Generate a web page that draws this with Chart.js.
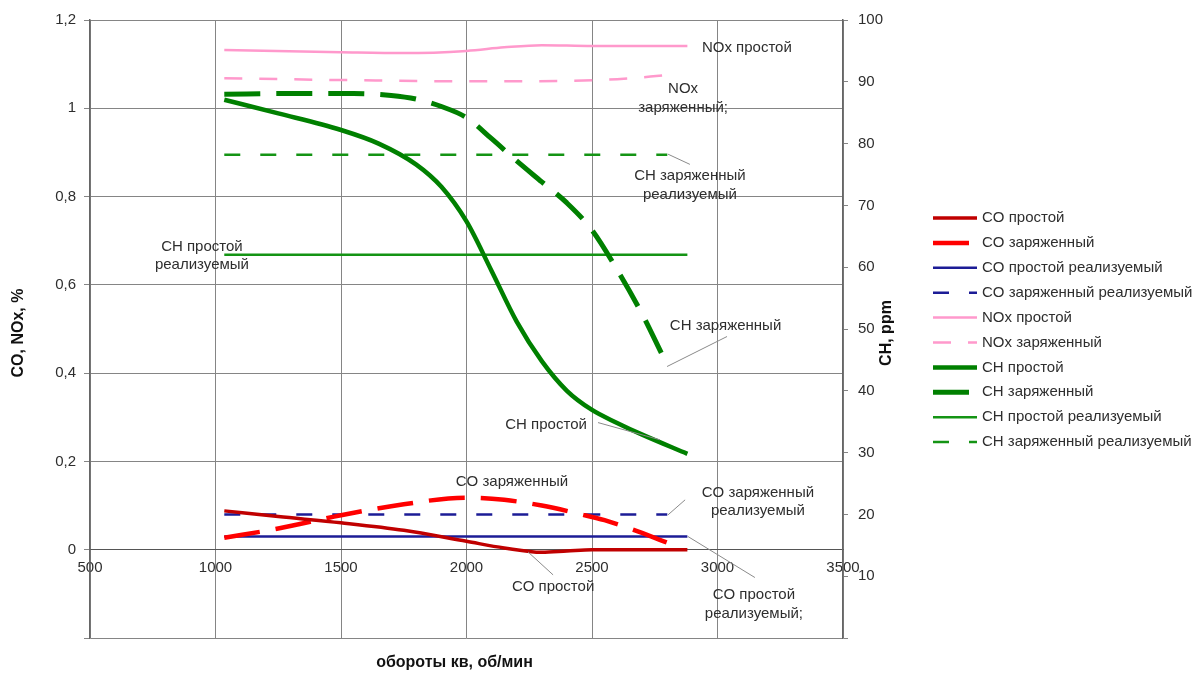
<!DOCTYPE html>
<html>
<head>
<meta charset="utf-8">
<script src="https://cdn.jsdelivr.net/npm/chart.js@4.4.1/dist/chart.umd.min.js"></script>
<style>
  html, body { margin: 0; padding: 0; background: #ffffff; }
  #wrap { width: 1200px; height: 673px; position: relative; }
</style>
</head>
<body>
<div id="wrap"><canvas id="c" width="1200" height="673"></canvas></div>
<script>
// Engine speed (rpm) and emissions: CO, NOx in % (left axis), CH in ppm (right axis)
const xTicks = [500, 1000, 1500, 2000, 2500, 3000, 3500];

const rpmCoSimple = [1035, 1250, 1500, 1750, 2000, 2150, 2300, 2400, 2500, 2880];
const coSimple    = [0.088, 0.075, 0.061, 0.044, 0.019, 0.004, -0.006, -0.003, 0.0, 0.0];

const rpmCoCharged = [1035, 1250, 1500, 1750, 2000, 2150, 2300, 2450, 2550, 2650, 2800];
const coCharged    = [0.027, 0.048, 0.078, 0.103, 0.118, 0.113, 0.1, 0.081, 0.067, 0.048, 0.016];

const rpmCoSimpleReal = [1035, 2880];
const coSimpleReal    = [0.03, 0.03];

const rpmCoChargedReal = [1035, 2800];
const coChargedReal    = [0.08, 0.08];

const rpmNoxSimple = [1035, 1500, 1750, 2000, 2150, 2300, 2500, 2880];
const noxSimple    = [1.132, 1.127, 1.125, 1.13, 1.138, 1.143, 1.141, 1.141];

const rpmNoxCharged = [1035, 1500, 2000, 2400, 2600, 2800];
const noxCharged    = [1.068, 1.064, 1.061, 1.062, 1.066, 1.075];

const rpmChSimple = [1035, 1250, 1500, 1650, 1800, 1900, 2000, 2100, 2200, 2300, 2400, 2500, 2600, 2700, 2880];
const chSimple    = [87.1, 84.9, 82.2, 80.0, 76.6, 73.0, 67.4, 59.4, 51.2, 44.8, 40.0, 36.9, 34.8, 32.9, 29.8];

const rpmChCharged = [1035, 1300, 1550, 1700, 1800, 1900, 2000, 2100, 2200, 2300, 2400, 2500, 2600, 2700, 2780];
const chCharged    = [88.0, 88.1, 88.1, 87.8, 87.2, 86.0, 84.2, 80.8, 77.2, 73.8, 70.4, 66.0, 59.6, 52.4, 45.8];

const rpmChSimpleReal = [1035, 2880];
const chSimpleReal    = [62.0, 62.0];

const rpmChChargedReal = [1035, 2800];
const chChargedReal    = [78.2, 78.2];

const seriesNames = [
  'CO простой', 'CO заряженный', 'CO простой реализуемый', 'CO заряженный реализуемый',
  'NOx простой', 'NOx заряженный', 'CH простой', 'CH заряженный',
  'CH простой реализуемый', 'CH заряженный реализуемый'
];

const FONT = '"Liberation Sans", Arial, Helvetica, sans-serif';
const TEXT = '#2e2e2e';
const GRID = '#858585';

const pts = (xs, ys) => xs.map((x, i) => ({ x: x, y: ys[i] }));

function line(label, xs, ys, axis, color, width, dash) {
  return {
    label: label,
    data: pts(xs, ys),
    yAxisID: axis,
    borderColor: color,
    backgroundColor: color,
    borderWidth: width,
    borderDash: dash || [],
    borderCapStyle: 'butt',
    pointRadius: 0,
    pointHoverRadius: 0,
    fill: false,
    cubicInterpolationMode: 'monotone'
  };
}

const datasets = [
  line(seriesNames[0], rpmCoSimple, coSimple, 'y', '#c00000', 3.5),
  line(seriesNames[1], rpmCoCharged, coCharged, 'y', '#ff0000', 4.5, [36, 16]),
  line(seriesNames[2], rpmCoSimpleReal, coSimpleReal, 'y', '#1c1c96', 2.5),
  line(seriesNames[3], rpmCoChargedReal, coChargedReal, 'y', '#1c1c96', 2.5, [16, 20]),
  line(seriesNames[4], rpmNoxSimple, noxSimple, 'y', '#ff99cc', 2.5),
  line(seriesNames[5], rpmNoxCharged, noxCharged, 'y', '#ff99cc', 2.5, [18, 17]),
  line(seriesNames[6], rpmChSimple, chSimple, 'y2', '#008000', 4.5),
  line(seriesNames[7], rpmChCharged, chCharged, 'y2', '#008000', 5, [36, 16]),
  line(seriesNames[8], rpmChSimpleReal, chSimpleReal, 'y2', '#149414', 2.5),
  line(seriesNames[9], rpmChChargedReal, chChargedReal, 'y2', '#149414', 2.5, [16, 20])
];

// Callout labels, anchored in data units (x: rpm, y: left axis %)
const callouts = [
  { lines: ['NOx простой'], x: 2938, y: 1.138, align: 'left' },
  { lines: ['NOx', 'заряженный;'], x: 2863, y: 1.023 },
  { lines: ['CH заряженный', 'реализуемый'], x: 2890, y: 0.825, leader: [2803, 0.896, 2890, 0.873] },
  { lines: ['CH заряженный'], x: 3032, y: 0.506, leader: [2799, 0.415, 3038, 0.483] },
  { lines: ['CH простой'], x: 2317, y: 0.283, leader: [2524, 0.288, 2771, 0.249] },
  { lines: ['CH простой', 'реализуемый'], x: 946, y: 0.666 },
  { lines: ['CO заряженный'], x: 2181, y: 0.154 },
  { lines: ['CO заряженный', 'реализуемый'], x: 3161, y: 0.108, leader: [2803, 0.079, 2871, 0.113] },
  { lines: ['CO простой'], x: 2345, y: -0.084, leader: [2245, -0.005, 2345, -0.057] },
  { lines: ['CO простой', 'реализуемый;'], x: 3145, y: -0.124, leader: [2882, 0.03, 3149, -0.063] }
];

const calloutPlugin = {
  id: 'callouts',
  afterDatasetsDraw(chart) {
    const ctx = chart.ctx, xs = chart.scales.x, ys = chart.scales.y;
    ctx.save();
    ctx.font = '15px ' + FONT;
    ctx.fillStyle = TEXT;
    ctx.textBaseline = 'middle';
    callouts.forEach(c => {
      if (c.leader) {
        ctx.strokeStyle = '#8a8a8a';
        ctx.lineWidth = 1;
        ctx.setLineDash([]);
        ctx.beginPath();
        ctx.moveTo(xs.getPixelForValue(c.leader[0]), ys.getPixelForValue(c.leader[1]));
        ctx.lineTo(xs.getPixelForValue(c.leader[2]), ys.getPixelForValue(c.leader[3]));
        ctx.stroke();
      }
      const px = xs.getPixelForValue(c.x);
      const py = ys.getPixelForValue(c.y);
      const lh = 18.5;
      const top = py - (c.lines.length - 1) * lh / 2;
      ctx.textAlign = c.align || 'center';
      c.lines.forEach((t, i) => ctx.fillText(t, px, top + i * lh));
    });
    ctx.restore();
  }
};

// Side legend and axis titles
const decorPlugin = {
  id: 'decor',
  afterDraw(chart) {
    const ctx = chart.ctx, area = chart.chartArea;
    ctx.save();
    // legend
    ctx.font = '15px ' + FONT;
    ctx.textBaseline = 'middle';
    ctx.textAlign = 'left';
    chart.data.datasets.forEach((ds, i) => {
      const y = 218 + i * 24.9;
      ctx.strokeStyle = ds.borderColor;
      ctx.lineWidth = ds.borderWidth;
      ctx.lineCap = 'butt';
      ctx.setLineDash(ds.borderDash || []);
      ctx.beginPath();
      ctx.moveTo(933, y);
      ctx.lineTo(977, y);
      ctx.stroke();
      ctx.setLineDash([]);
      ctx.fillStyle = TEXT;
      ctx.fillText(ds.label, 982, y);
    });
    // axis titles
    ctx.font = 'bold 16px ' + FONT;
    ctx.fillStyle = '#111111';
    ctx.textAlign = 'center';
    ctx.fillText('обороты кв, об/мин', (area.left + area.right) / 2 - 12, 663);
    const midY = (area.top + area.bottom) / 2;
    ctx.save();
    ctx.translate(19, midY + 4);
    ctx.rotate(-Math.PI / 2);
    ctx.fillText('CO, NOx, %', 0, 0);
    ctx.restore();
    ctx.save();
    ctx.translate(887, midY + 4);
    ctx.rotate(-Math.PI / 2);
    ctx.fillText('CH, ppm', 0, 0);
    ctx.restore();
    ctx.restore();
  }
};

const tickFont = { family: FONT, size: 15 };

new Chart(document.getElementById('c'), {
  type: 'line',
  data: { datasets: datasets },
  plugins: [calloutPlugin, decorPlugin],
  options: {
    responsive: false,
    animation: false,
    events: [],
    layout: { padding: { left: 0, right: 297, top: 20, bottom: 35 } },
    plugins: { legend: { display: false }, tooltip: { enabled: false } },
    scales: {
      x: {
        type: 'linear',
        position: { y: 0 },
        min: xTicks[0],
        max: xTicks[xTicks.length - 1],
        afterBuildTicks: s => { s.ticks = xTicks.map(v => ({ value: v })); },
        ticks: {
          color: TEXT, font: tickFont, padding: 9, maxRotation: 0, autoSkip: false,
          callback: v => String(v)
        },
        grid: { color: GRID, lineWidth: 1, drawTicks: false },
        border: { color: '#555555', width: 1 },
        afterFit: s => { s.height = 0; }
      },
      y: {
        position: 'left',
        min: -0.2,
        max: 1.2,
        ticks: {
          stepSize: 0.2,
          color: TEXT,
          font: tickFont,
          padding: 8,
          callback: v => {
            const r = Math.round(v * 10) / 10;
            return r < 0 ? '' : String(r).replace('.', ',');
          }
        },
        grid: { color: GRID, lineWidth: 1, tickLength: 6 },
        border: { color: '#666666', width: 1.5 },
        afterFit: s => { s.width = 90; }
      },
      y2: {
        position: 'right',
        min: 0,
        max: 100,
        ticks: {
          stepSize: 10,
          color: TEXT,
          font: tickFont,
          padding: 10,
          callback: v => (v === 0 ? '' : String(v))
        },
        grid: { drawOnChartArea: false, color: GRID, tickLength: 5 },
        border: { color: '#666666', width: 1.5 },
        afterFit: s => { s.width = 60; }
      }
    }
  }
});
</script>
</body>
</html>
